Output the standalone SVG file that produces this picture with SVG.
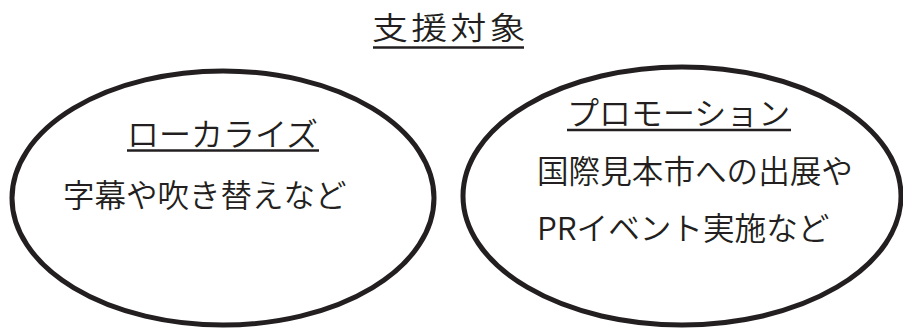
<svg xmlns="http://www.w3.org/2000/svg" width="903" height="333" viewBox="0 0 903 333">
<style>
.t{font-family:"Noto Sans CJK JP","Noto Sans",sans-serif;font-weight:350;fill:#231f20;}
.e{fill:#fff;stroke:#231f20;stroke-width:5;}
.u{stroke:#231f20;stroke-width:2.5;}
</style>
<rect width="903" height="333" fill="#fff"/>
<g id="title">
<text class="t" transform="translate(372,39) scale(1,0.86)" x="0" y="0" font-size="36" letter-spacing="3.2">支援対象</text>
<line class="u" x1="373" y1="47.5" x2="524" y2="47.5"/>
</g>
<g id="localize">
<ellipse class="e" cx="223" cy="198" rx="211" ry="127"/>
<text class="t" x="127" y="146" font-size="32">ローカライズ</text>
<line class="u" x1="127" y1="150.5" x2="319" y2="150.5"/>
<text class="t" x="63" y="207" font-size="31.5">字幕や吹き替えなど</text>
</g>
<g id="promotion">
<ellipse class="e" cx="682" cy="196" rx="219" ry="129"/>
<text class="t" x="567" y="125" font-size="32">プロモーション</text>
<line class="u" x1="567" y1="130" x2="791" y2="130"/>
<text class="t" x="537" y="183" font-size="31.6">国際見本市への出展や</text>
<text class="t" x="537" y="240" font-size="31.6">PRイベント実施など</text>
</g>
<g id="connectors"/>
</svg>
